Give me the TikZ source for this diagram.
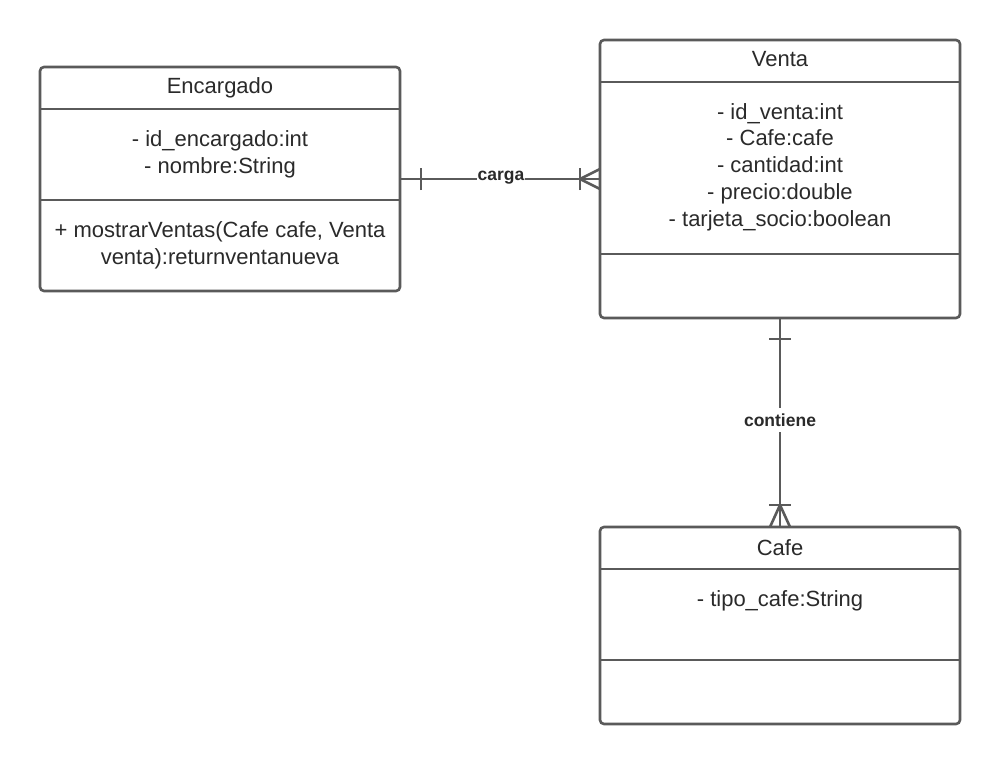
\documentclass[tikz,border=0pt]{standalone}
\usepackage{fontspec}
\setmainfont{Liberation Sans}
\definecolor{linec}{HTML}{5A5A5A}
\definecolor{textc}{HTML}{2A2A2A}
\tikzset{
  umlbox/.style={draw=linec, line width=2.6pt, rounded corners=4pt, fill=white, inner sep=0pt, outer sep=0pt},
  divider/.style={draw=linec, line width=2.6pt},
  conn/.style={draw=linec, line width=2.6pt},
  txt/.style={text=textc, font=\fontsize{22}{26.7}\selectfont, align=center, inner sep=0pt},
  rel/.style={text=textc, font=\fontsize{17.5}{19}\selectfont\bfseries, fill=white, inner sep=1pt}
}
\begin{document}
\begin{tikzpicture}[x=1pt,y=-1pt]
\useasboundingbox (0,0) rectangle (1000,765);
\fill[white] (0,0) rectangle (1000,765);
% boxes
\node[umlbox, minimum width=360pt, minimum height=224pt] (enc) at (220,179) {};
\node[umlbox, minimum width=360pt, minimum height=278pt] (venta) at (780,179) {};
\node[umlbox, minimum width=360pt, minimum height=197pt] (cafe) at (780,625.5) {};
% dividers
\draw[divider] (enc.west |- 0,109) -- (enc.east |- 0,109);
\draw[divider] (enc.west |- 0,200) -- (enc.east |- 0,200);
\draw[divider] (venta.west |- 0,82) -- (venta.east |- 0,82);
\draw[divider] (venta.west |- 0,254) -- (venta.east |- 0,254);
\draw[divider] (cafe.west |- 0,569) -- (cafe.east |- 0,569);
\draw[divider] (cafe.west |- 0,660) -- (cafe.east |- 0,660);
% texts
\node[txt] (enctitle) at (220,87.5) {Encargado};
\node[txt] (encattr) at (220,154.5) {- id\_encargado:int\\- nombre:String};
\node[txt] (encmeth) at (220,245) {+ mostrarVentas(Cafe cafe, Venta\\venta):returnventanueva};
\node[txt] (ventatitle) at (780,59.5) {Venta};
\node[txt] (ventaattr) at (780,167) {- id\_venta:int\\- Cafe:cafe\\- cantidad:int\\- precio:double\\- tarjeta\_socio:boolean};
\node[txt] (cafetitle) at (780,547.5) {Cafe};
\node[txt] (cafeattr) at (780,601) {- tipo\_cafe:String};
% connector carga
\draw[conn] (enc.east) -- (venta.west);
\draw[conn] ([xshift=21pt,yshift=-11pt]enc.east) -- ([xshift=21pt,yshift=11pt]enc.east);
\draw[conn] ([xshift=-20pt,yshift=-11pt]venta.west) -- ([xshift=-20pt,yshift=11pt]venta.west);
\draw[conn] ([yshift=-10pt]venta.west) -- ([xshift=-20pt]venta.west) -- ([yshift=10pt]venta.west);
\node[rel] (carga) at (501,178) {carga};
% connector contiene
\draw[conn] (venta.south) -- (cafe.north);
\draw[conn] ([xshift=-11pt,yshift=-21pt]venta.south) -- ([xshift=11pt,yshift=-21pt]venta.south);
\draw[conn] ([xshift=-11pt,yshift=22pt]cafe.north) -- ([xshift=11pt,yshift=22pt]cafe.north);
\draw[conn] ([xshift=-10pt]cafe.north) -- ([yshift=22pt]cafe.north) -- ([xshift=10pt]cafe.north);
\node[rel, inner ysep=6pt] (contiene) at (780,420) {contiene};
\end{tikzpicture}
\end{document}
